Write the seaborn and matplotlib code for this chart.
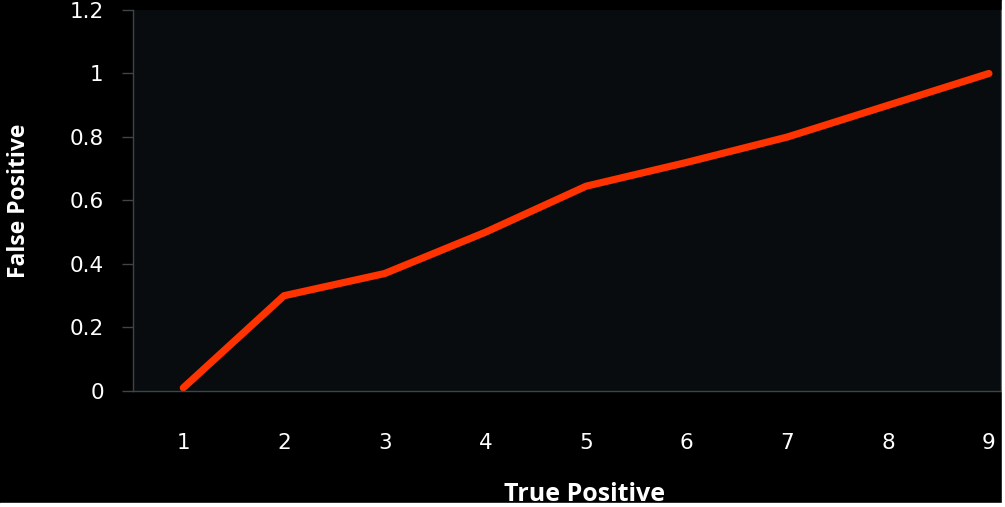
import seaborn as sns
import matplotlib.pyplot as plt
from matplotlib.patches import Rectangle

# values
true_positive = [1, 2, 3, 4, 5, 6, 7, 8, 9]
false_positive = [0.01, 0.30, 0.37, 0.50, 0.645, 0.72, 0.80, 0.90, 1.00]
y_ticks = [0, 0.2, 0.4, 0.6, 0.8, 1, 1.2]
y_tick_labels = ["0", "0.2", "0.4", "0.6", "0.8", "1", "1.2"]

sns.set_style("dark")
plt.rcParams['font.family'] = ['DejaVu Sans']

fig = plt.figure(figsize=(10.05, 5.07), dpi=100, facecolor="black")
ax = fig.add_axes([0.1323, 0.2288, 0.8637, 0.7515])
ax.set_facecolor("#080c0e")

sns.lineplot(x=true_positive, y=false_positive, ax=ax, color="#ff3300",
             linewidth=5.2, solid_capstyle="round", solid_joinstyle="round")

ax.set_xlim(0.5, 9.12)
ax.set_ylim(0, 1.2)
ax.set_xticks(true_positive)
ax.set_xticklabels([str(v) for v in true_positive])
ax.set_yticks(y_ticks)
ax.set_yticklabels(y_tick_labels)
ax.grid(False)

for side in ["left", "bottom", "right"]:
    ax.spines[side].set_visible(True)
    ax.spines[side].set_color("#3c4649")
    ax.spines[side].set_linewidth(1)
ax.spines["top"].set_visible(False)

ax.tick_params(axis="y", colors="#3c4649", length=8, width=1, pad=13,
               labelcolor="white", labelsize=15.5, left=True)
ax.tick_params(axis="x", length=0, pad=30, labelcolor="white", labelsize=15.5)

ax.set_xlabel("True Positive", fontsize=18, fontweight="bold",
              color="white", family="Open Sans")
ax.xaxis.set_label_coords(0.52, -0.24)
ax.set_ylabel("False Positive", fontsize=16.5, fontweight="bold",
              color="white", family="Open Sans")
ax.yaxis.set_label_coords(-0.118, 0.5)

# white edge strips seen in the reference
fig.add_artist(Rectangle((0, 0), 1, 4 / 507, transform=fig.transFigure,
                         color="white", zorder=10))
fig.add_artist(Rectangle((1 - 3 / 1005, 0), 3 / 1005, 1, transform=fig.transFigure,
                         color="white", zorder=10))

fig.savefig("out.png", dpi=100, facecolor="black")
